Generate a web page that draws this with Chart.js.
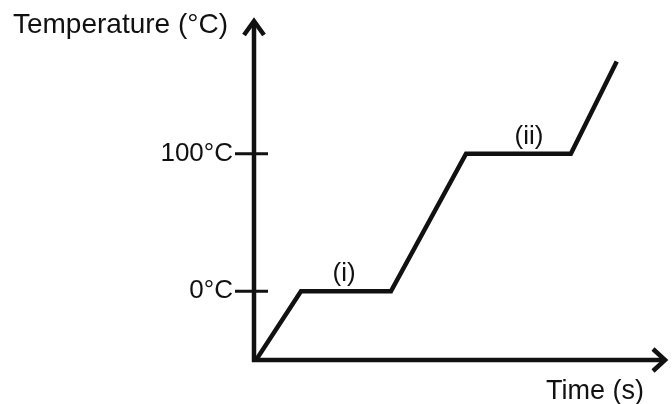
<!DOCTYPE html>
<html><head><meta charset="utf-8">
<script src="https://cdn.jsdelivr.net/npm/chart.js@4"></script>
<style>html,body{margin:0;padding:0;background:#fff;overflow:hidden}</style>
</head><body>
<canvas id="c" width="672" height="404"></canvas>
<script>
const timeValues = [0, 1, 3, 4.67, 7, 8.02];
const temperatureValues = [-50, 0, 0, 100, 100, 167];
const yTickValues = [0, 100];
const yTickLabels = ['0°C', '100°C'];
const phaseLabels = ['(i)', '(ii)'];
const phaseLabelX = [1.96, 6.07];
const phaseLabelY = [0, 100];
const xTitle = 'Time (s)';
const yTitle = 'Temperature (°C)';

const points = timeValues.map((t, i) => ({x: t, y: temperatureValues[i]}));
const FONT = '"Liberation Sans", Arial, Helvetica, sans-serif';
const INK = '#111';

const axesPlugin = {
  id: 'axesPlugin',
  afterDraw(chart) {
    const ctx = chart.ctx;
    const xs = chart.scales.x, ys = chart.scales.y;
    const a = chart.chartArea;
    const ox = xs.getPixelForValue(0) - 2;
    const oy = ys.getPixelForValue(-50);
    ctx.save();
    ctx.strokeStyle = INK;
    ctx.lineWidth = 4.5;
    ctx.lineJoin = 'miter';
    ctx.lineCap = 'butt';
    // y axis
    ctx.beginPath();
    ctx.moveTo(ox, oy + 2);
    ctx.lineTo(ox, a.top + 3);
    ctx.stroke();
    ctx.beginPath();
    ctx.moveTo(ox - 10, a.top + 17);
    ctx.lineTo(ox, a.top + 3);
    ctx.lineTo(ox + 10, a.top + 17);
    ctx.stroke();
    // x axis
    ctx.beginPath();
    ctx.moveTo(ox - 2, oy);
    ctx.lineTo(a.right - 3, oy);
    ctx.stroke();
    ctx.beginPath();
    ctx.moveTo(a.right - 15, oy - 11);
    ctx.lineTo(a.right - 3, oy);
    ctx.lineTo(a.right - 15, oy + 11);
    ctx.stroke();
    // y ticks
    ctx.lineWidth = 3;
    ctx.fillStyle = INK;
    ctx.font = '26px ' + FONT;
    ctx.textAlign = 'right';
    ctx.textBaseline = 'middle';
    yTickValues.forEach((v, i) => {
      const py = ys.getPixelForValue(v);
      ctx.beginPath();
      ctx.moveTo(ox - 19, py);
      ctx.lineTo(ox + 14, py);
      ctx.stroke();
      ctx.fillText(yTickLabels[i], ox - 21, py);
    });
    // phase labels
    ctx.textAlign = 'center';
    phaseLabels.forEach((s, i) => {
      const px = xs.getPixelForValue(phaseLabelX[i]);
      const py = ys.getPixelForValue(phaseLabelY[i]);
      ctx.fillText(s, px, py - 17);
    });
    // titles
    ctx.font = '28px ' + FONT;
    ctx.textAlign = 'right';
    ctx.textBaseline = 'alphabetic';
    ctx.fillText(yTitle, ox - 26, a.top + 15);
    ctx.font = '27px ' + FONT;
    ctx.textAlign = 'center';
    ctx.fillText(xTitle, a.right - 73, oy + 39);
    ctx.restore();
  }
};

new Chart(document.getElementById('c'), {
  type: 'line',
  data: {
    datasets: [{
      data: points,
      borderColor: INK,
      borderWidth: 4.5,
      borderJoinStyle: 'miter',
      borderCapStyle: 'butt',
      pointRadius: 0,
      tension: 0,
      fill: false
    }]
  },
  options: {
    responsive: false,
    animation: false,
    layout: {padding: {left: 256, right: 4, top: 18, bottom: 44}},
    plugins: {legend: {display: false}, tooltip: {enabled: false}},
    scales: {
      x: {type: 'linear', min: 0, max: 9.16, display: false},
      y: {type: 'linear', min: -50, max: 198.6, display: false}
    }
  },
  plugins: [axesPlugin]
});
</script>
</body></html>
